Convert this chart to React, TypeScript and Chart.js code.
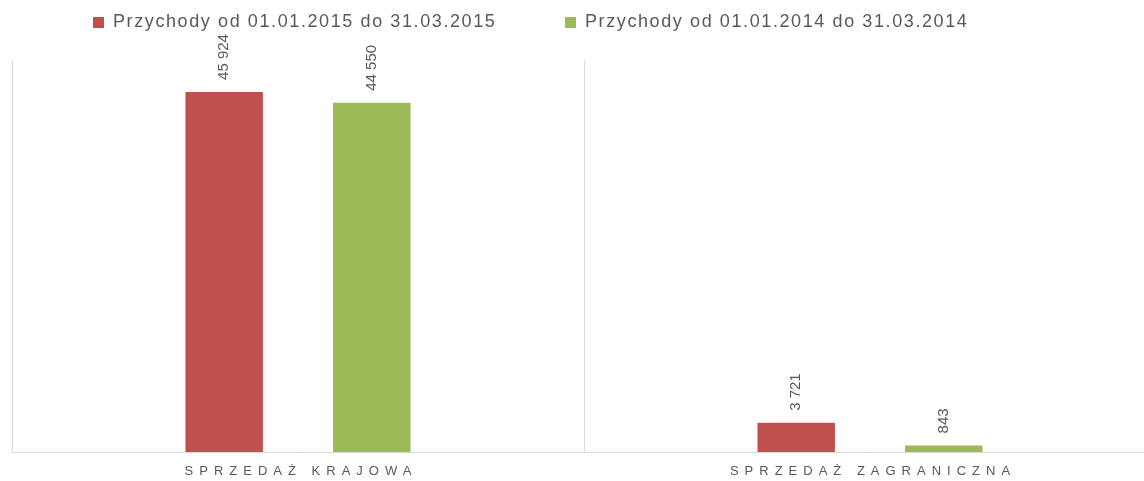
import React, { useEffect, useRef } from "react";
import { Chart, registerables } from "chart.js";

Chart.register(...registerables);

const categories = ["SPRZEDAŻ KRAJOWA", "SPRZEDAŻ ZAGRANICZNA"];
const seriesLabels = [
  "Przychody od 01.01.2015 do 31.03.2015",
  "Przychody od 01.01.2014 do 31.03.2014",
];
const revenue2015 = [45924, 3721];
const revenue2014 = [44550, 843];
const seriesColors = ["#c0504d", "#9bbb59"];
const yMax = 50000;

const textColor = "#595959";
const gridColor = "#d9d9d9";

const fmt = (v: number) => String(v).replace(/\B(?=(\d{3})+(?!\d))/g, " ");

const valueLabelPlugin = {
  id: "valueLabels",
  afterDatasetsDraw(chart: any) {
    const ctx = chart.ctx;
    ctx.save();
    ctx.font = '15px "Liberation Sans", Arial, sans-serif';
    ctx.fillStyle = textColor;
    chart.data.datasets.forEach((ds: any, di: number) => {
      const meta = chart.getDatasetMeta(di);
      meta.data.forEach((bar: any, i: number) => {
        const v = ds.data[i];
        ctx.save();
        ctx.translate(bar.x, bar.y - 12);
        ctx.rotate(-Math.PI / 2);
        ctx.textAlign = "left";
        ctx.textBaseline = "middle";
        ctx.fillText(fmt(v), 0, 0);
        ctx.restore();
      });
    });
    ctx.restore();
  },
};

const categoryLabelPlugin = {
  id: "categoryLabels",
  afterDraw(chart: any) {
    const ctx = chart.ctx;
    const xs = chart.scales.x;
    const spacing = 6;
    ctx.save();
    ctx.font = '13px "Liberation Sans", Arial, sans-serif';
    (ctx as any).letterSpacing = spacing + "px";
    ctx.fillStyle = textColor;
    ctx.textAlign = "center";
    ctx.textBaseline = "middle";
    categories.forEach((c, i) => {
      ctx.fillText(c, xs.getPixelForValue(i) + spacing / 2, chart.chartArea.bottom + 19);
    });
    ctx.restore();
  },
};

export default function App() {
  const canvasRef = useRef<HTMLCanvasElement | null>(null);

  useEffect(() => {
    if (!canvasRef.current) return;
    const chart = new Chart(canvasRef.current, {
      type: "bar",
      data: {
        labels: categories,
        datasets: [
          {
            label: seriesLabels[0],
            data: revenue2015,
            backgroundColor: seriesColors[0],
            categoryPercentage: 0.516,
            barPercentage: 0.525,
          },
          {
            label: seriesLabels[1],
            data: revenue2014,
            backgroundColor: seriesColors[1],
            categoryPercentage: 0.516,
            barPercentage: 0.525,
          },
        ],
      },
      options: {
        responsive: false,
        animation: false,
        layout: { padding: { left: 12, right: 4, top: 60, bottom: 29 } },
        plugins: {
          legend: { display: false },
          tooltip: { enabled: false },
        },
        scales: {
          x: {
            offset: true,
            grid: { display: true, color: gridColor, drawTicks: false, offset: true },
            border: { display: true, color: gridColor },
            ticks: { display: false },
          },
          y: {
            display: false,
            min: 0,
            max: yMax,
          },
        },
      },
      plugins: [valueLabelPlugin, categoryLabelPlugin],
    });
    return () => chart.destroy();
  }, []);

  const legendFont: React.CSSProperties = {
    position: "absolute",
    top: 9,
    height: 24,
    display: "flex",
    alignItems: "center",
    fontFamily: '"Liberation Sans", Arial, sans-serif',
    fontSize: 18,
    letterSpacing: "1.6px",
    color: textColor,
    whiteSpace: "nowrap",
  };
  const legendLefts = [93, 565];

  return (
    <div
      style={{
        position: "fixed",
        left: 0,
        top: 0,
        width: 1144,
        height: 481,
        overflow: "hidden",
        background: "#ffffff",
      }}
    >
      <canvas ref={canvasRef} width={1160} height={481} style={{ display: "block" }} />
      {seriesLabels.map((s, i) => (
        <div key={s} style={{ ...legendFont, left: legendLefts[i] }}>
          <span
            style={{
              display: "inline-block",
              width: 11,
              height: 11,
              background: seriesColors[i],
              marginRight: 9,
              marginTop: 3,
            }}
          />
          <span>{s}</span>
        </div>
      ))}
    </div>
  );
}
